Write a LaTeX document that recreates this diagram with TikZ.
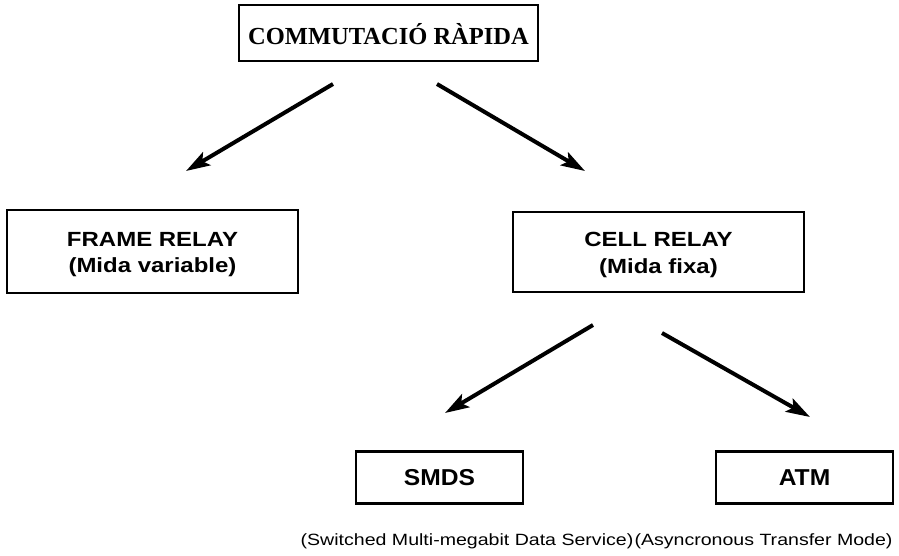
\documentclass[tikz,border=0pt]{standalone}
\usepackage{fontspec}
\setmainfont{Liberation Serif}
\newfontfamily\hsf[FakeStretch=1.17]{Liberation Sans}
\newfontfamily\hsc[FakeStretch=1.2]{Liberation Sans}
\newfontfamily\hsm[FakeStretch=1.07]{Liberation Sans}
\usetikzlibrary{arrows.meta}
\tikzset{
  boxnode/.style={draw, line width=2.4pt, inner sep=0pt},
  txtnode/.style={inner sep=0pt, align=center},
  arr/.style={line width=4pt, -{Stealth[length=24pt,width=15pt,inset=5pt]}},
  capnode/.style={inner sep=0pt, font=\hsc\fontsize{16.3}{18}\selectfont}
}
\begin{document}
\begin{tikzpicture}[x=1pt,y=-1pt]
\useasboundingbox (0,0) rectangle (899,555);
\node[boxnode, minimum width=299pt, minimum height=56pt] (top) at (388.5,33) {};
\node[txtnode, font=\bfseries\fontsize{24.5}{28}\selectfont] (toptxt) at ([yshift=-1pt]top.center) {COMMUTACIÓ RÀPIDA};
\node[boxnode, minimum width=291pt, minimum height=83pt] (frame) at (152.5,251.5) {};
\node[txtnode, font=\hsf\bfseries\fontsize{20.5}{26.5}\selectfont] (frametxt) at ([yshift=-3pt]frame.center) {FRAME RELAY\\(Mida variable)};
\node[boxnode, minimum width=291pt, minimum height=80pt] (cell) at (658.5,252) {};
\node[txtnode, font=\hsf\bfseries\fontsize{20.5}{26.5}\selectfont] (celltxt) at ([yshift=-3pt]cell.center) {CELL RELAY\\(Mida fixa)};
\node[boxnode, minimum width=167pt, minimum height=52pt] (smds) at (439.5,477.5) {};
\node[txtnode, font=\hsm\bfseries\fontsize{23}{26}\selectfont] (smdstxt) at (smds.center) {SMDS};
\node[boxnode, minimum width=177pt, minimum height=52pt] (atm) at (804.5,477.5) {};
\node[txtnode, font=\hsm\bfseries\fontsize{23}{26}\selectfont] (atmtxt) at (atm.center) {ATM};
\node[capnode] (smdscap) at (467,541) {(Switched Multi-megabit Data Service)};
\node[capnode] (atmcap) at (763.5,541) {(Asyncronous Transfer Mode)};
\coordinate (a1s) at (333,84);
\coordinate (a1e) at (186,171);
\coordinate (a2s) at (437,84);
\coordinate (a2e) at (585,171);
\coordinate (a3s) at (593,325);
\coordinate (a3e) at (445,413);
\coordinate (a4s) at (662,333);
\coordinate (a4e) at (810,417);
\draw[arr] (a1s) -- (a1e);
\draw[arr] (a2s) -- (a2e);
\draw[arr] (a3s) -- (a3e);
\draw[arr] (a4s) -- (a4e);
\end{tikzpicture}
\end{document}
